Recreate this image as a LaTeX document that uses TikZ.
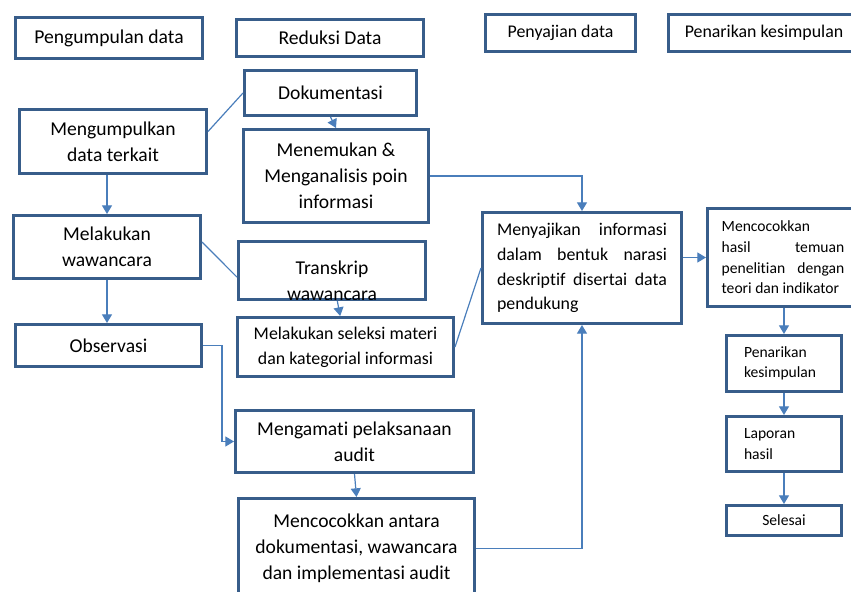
\documentclass[tikz,border=0pt]{standalone}
\usepackage{fontspec}
\setmainfont{Carlito}[Ligatures=NoCommon]
\usetikzlibrary{arrows.meta}

\definecolor{garis}{HTML}{385D8A}
\definecolor{biru}{HTML}{4A7EBB}

\newcommand\besar{\fontsize{14.7}{19.5}\selectfont}
\newcommand\sedang{\fontsize{13.4}{18.5}\selectfont}
\newcommand\kecil{\fontsize{11.7}{15.5}\selectfont}

\tolerance=10000
\hbadness=10000

\tikzset{
  blok/.style 2 args={draw=garis, line width=2.4pt, minimum width=#1*0.75pt-2.4pt,
    minimum height=#2*0.75pt-2.4pt, inner sep=2pt, align=center, font=\besar},
  conn/.style={draw=biru, line width=0.9pt},
  panah/.style={conn, -{Triangle[length=6.5pt,width=7.5pt]}}
}

\begin{document}
\begin{tikzpicture}[x=0.75pt,y=-0.75pt]
\useasboundingbox (0,0) rectangle (851,592);
\clip (0,0) rectangle (851,592);

%header:
\node[blok={190}{44}] (kumpul) at (109,38) {Pengumpulan data};
\node[blok={190}{40}] (reduksi) at (330,38) {Reduksi Data};
\node[blok={153}{40}, font=\sedang] (sajian) at (560.5,33) {Penyajian data};
\node[blok={194}{40}, font=\sedang] (tarikan) at (764,33) {Penarikan kesimpulan};

%pengumpulan data:
\node[blok={190}{67}] (kumpuldata) at (113,141.5) {Mengumpulkan\\data terkait};
\node[blok={190}{66}] (wawan) at (107,247) {Melakukan\\wawancara};
\node[blok={189}{45}] (obs) at (108.5,345.5) {Observasi};

%reduksi data:
\node[blok={175}{48}] (doku) at (330.5,93) {Dokumentasi};
\node[blok={188}{96}] (temu) at (336,176) {Menemukan \&\\Menganalisis poin\\informasi};
\node[blok={190}{61}] (transkrip) at (332,270.5) {};
\begin{scope}
\clip (transkrip.north west) rectangle ([yshift=1.2pt]transkrip.south east);
\node[font=\besar, align=center] (transkripteks) at (332,281) {Transkrip\\wawancara};
\end{scope}
\node[blok={219}{62}, font=\sedang] (seleksi) at (345.5,347) {Melakukan seleksi materi\\dan kategorial informasi};
\node[blok={241}{65}] (amati) at (354.5,441.5) {Mengamati pelaksanaan\\audit};
\node[blok={239}{103}] (antara) at (356.5,548.5) {Mencocokkan antara\\dokumentasi, wawancara\\dan implementasi audit};

%penyajian data:
\node[blok={202}{114}, font=\sedang, text width=127.5pt, align=justify] (saji) at (582,268)
  {Menyajikan informasi\linebreak dalam bentuk narasi\linebreak deskriptif disertai data\linebreak pendukung};

%penarikan kesimpulan:
\node[blok={154}{101}, font=\kecil, text width=92pt, align=justify] (cocok) at (783,257.5)
  {Mencocokkan\linebreak hasil temuan\linebreak penelitian dengan\linebreak teori dan indikator};
\node[blok={118}{59}, font=\kecil, text width=60pt, align=left] (tarik) at (784,363.5) {Penarikan\\kesimpulan};
\node[blok={118}{58}, font=\kecil, text width=60pt, align=left] (lapor) at (784,444) {Laporan\\hasil};
\node[blok={118}{33}, font=\kecil] (selesai) at (784,520.5) {Selesai};

%connectors:
\draw[conn] (kumpuldata.6) -- (doku.west);
\draw[panah] (kumpuldata.south -| wawan.north) -- (wawan.north);
\draw[panah] (wawan.south) -- (wawan.south |- obs.north);
\draw[conn] (wawan.3) -- (transkrip.184);
\draw[panah] (doku.south) -- (temu.north);
\draw[panah] (temu.east) -| (saji.north);
\draw[panah] ([xshift=4pt]transkrip.south) -- ([xshift=-4pt]seleksi.north);
\draw[conn] (seleksi.east) -- (saji.west);
\draw[panah] (obs.east) -- ++(19,0) |- (amati.west);
\draw[panah] (amati.south) -- (antara.north);
\draw[panah] (antara.east) -| (saji.south);
\draw[panah] (cocok.west -| saji.east) -- (cocok.west);
\draw[panah] (cocok.south -| tarik.north) -- (tarik.north);
\draw[panah] (tarik.south) -- (lapor.north);
\draw[panah] (lapor.south) -- (selesai.north);
\end{tikzpicture}
\end{document}
